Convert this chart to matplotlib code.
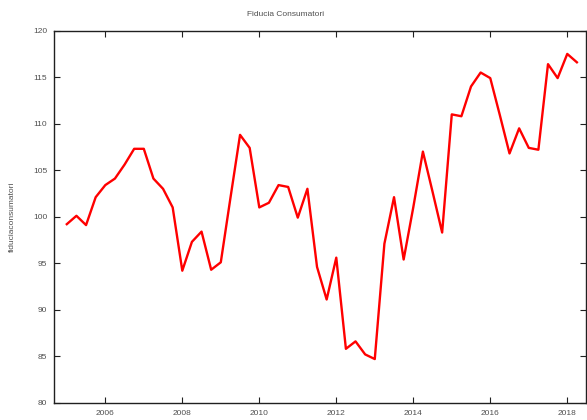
# =====================================================
# Fiducia Consumatori - serie trimestrale
# =====================================================

import numpy as np
import matplotlib
matplotlib.use("Agg")
import matplotlib.pyplot as plt

plt.rcParams["font.family"] = ["Liberation Sans", "DejaVu Sans"]

# =====================================================
# Data (2005:1 - 2018:2)
# =====================================================

start_year = 2005
quarters_per_year = 4

fiducia = [
    99.2, 100.1, 99.1, 102.1,
    103.4, 104.1, 105.6, 107.3,
    107.3, 104.1, 103.0, 101.0,
    94.2, 97.3, 98.4, 94.3,
    95.1, 102.0, 108.8, 107.4,
    101.0, 101.5, 103.4, 103.2,
    99.9, 103.0, 94.6, 91.1,
    95.6, 85.8, 86.6, 85.2,
    84.7, 97.1, 102.1, 95.4,
    101.0, 107.0, 102.7, 98.3,
    111.0, 110.8, 114.0, 115.5,
    114.9, 110.9, 106.8, 109.5,
    107.4, 107.2, 116.4, 114.9,
    117.5, 116.6,
]

x_ticks = [2006, 2008, 2010, 2012, 2014, 2016, 2018]
y_ticks = [80, 85, 90, 95, 100, 105, 110, 115, 120]

time = start_year + np.arange(len(fiducia)) / quarters_per_year

# =====================================================
# Plot
# =====================================================

text_color = "#505050"

fig = plt.figure(figsize=(5.87, 4.2), dpi=100)
ax = fig.add_axes([0.0925, 0.041, 0.906, 0.886])

ax.plot(time, fiducia, color="#ff0000", linewidth=1.7)

ax.set_xlim(2004.675, 2018.49)
ax.set_ylim(80, 120)
ax.set_xticks(x_ticks)
ax.set_yticks(y_ticks)

ax.tick_params(direction="in", length=4, width=0.8, color="#202020",
               labelsize=6, labelcolor=text_color,
               top=True, right=True, pad=5)

for side in ax.spines.values():
    side.set_linewidth(1.0)
    side.set_color("#202020")

fig.text(285.7 / 587, 1 - 14 / 420, "Fiducia Consumatori",
         ha="center", va="center", fontsize=6, color=text_color)
fig.text(12 / 587, 0.484, "fiduciaconsumatori", rotation=90,
         ha="center", va="center", fontsize=6, color=text_color)

plt.savefig("out.png", dpi=100)
